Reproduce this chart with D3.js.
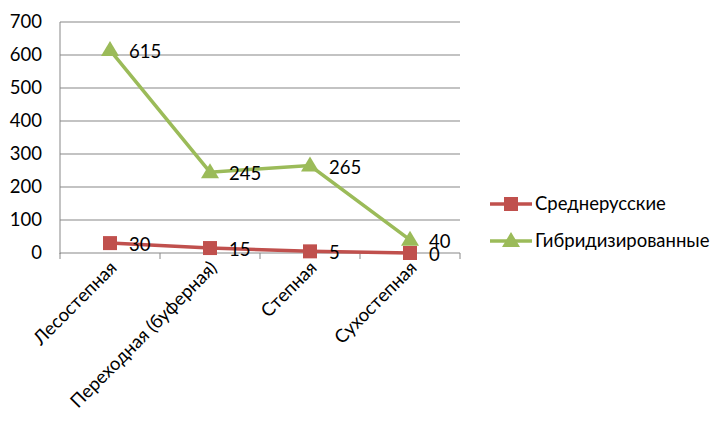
<!DOCTYPE html>
<html>
<head>
<meta charset="utf-8">
<script src="https://cdn.jsdelivr.net/npm/d3@7"></script>
<style>
body { margin:0; background:#fff; }
text { font-family: Lato, "Open Sans", sans-serif; fill:#000; }
</style>
</head>
<body>
<svg id="chart" width="719" height="423"></svg>
<script>
var categories = ['Лесостепная', 'Переходная (буферная)', 'Степная', 'Сухостепная'];
var seriesNames = ['Среднерусские', 'Гибридизированные'];
var sredne = [30, 15, 5, 0];
var gibrid = [615, 245, 265, 40];
var yTicks = [0, 100, 200, 300, 400, 500, 600, 700];
var colors = ['#C0504D', '#9BBB59'];

var svg = d3.select('#chart');
var pLeft = 60, pRight = 460, pTop = 22, pBottom = 253;

var x = d3.scaleBand().domain(categories).range([pLeft, pRight]);
var y = d3.scaleLinear().domain([0, 700]).range([pBottom, pTop]);

// gridlines
svg.append('g').selectAll('line').data(yTicks).enter().append('line')
	.attr('x1', pLeft).attr('x2', pRight)
	.attr('y1', function(d){ return y(d); }).attr('y2', function(d){ return y(d); })
	.attr('stroke', '#878787').attr('stroke-width', 1);

// y axis line
svg.append('line').attr('x1', pLeft).attr('x2', pLeft).attr('y1', pTop).attr('y2', pBottom+1)
	.attr('stroke', '#878787');

// x tick marks
var bounds = categories.map(function(c){ return x(c); }).concat([pRight]);
svg.append('g').selectAll('line').data(bounds).enter().append('line')
	.attr('x1', function(d){ return d; }).attr('x2', function(d){ return d; })
	.attr('y1', pBottom).attr('y2', pBottom+6)
	.attr('stroke', '#878787');

// y labels
svg.append('g').selectAll('text').data(yTicks).enter().append('text')
	.attr('x', 42).attr('y', function(d){ return y(d)+6; })
	.attr('text-anchor', 'end').attr('font-size', 18.5)
	.text(function(d){ return d; });

// x labels
svg.append('g').selectAll('text').data(categories).enter().append('text')
	.attr('transform', function(d){ return 'translate(' + (x(d)+x.bandwidth()/2+8) + ',' + (pBottom+16) + ') rotate(-45)'; })
	.attr('text-anchor', 'end').attr('font-size', 18.5)
	.text(function(d){ return d; });

var line = d3.line()
	.x(function(d,i){ return x(categories[i])+x.bandwidth()/2; })
	.y(function(d){ return y(d); });

var all = [sredne, gibrid];
all.forEach(function(vals, s){
	svg.append('path').datum(vals).attr('d', line)
		.attr('fill', 'none').attr('stroke', colors[s]).attr('stroke-width', 3.5);
});

function marker(g, s, cx, cy){
	if(s==0){
		g.append('rect').attr('x', cx-7).attr('y', cy-7).attr('width', 14).attr('height', 14)
			.attr('fill', colors[0]);
	} else {
		g.append('path').attr('d', 'M'+cx+','+(cy-9)+'L'+(cx+9)+','+(cy+6)+'L'+(cx-9)+','+(cy+6)+'Z')
			.attr('fill', colors[1]);
	}
}

all.forEach(function(vals, s){
	var g = svg.append('g');
	vals.forEach(function(v, i){
		var cx = x(categories[i])+x.bandwidth()/2;
		marker(g, s, cx, y(v));
	});
	g.selectAll('text').data(vals).enter().append('text')
		.attr('x', function(d,i){ return x(categories[i])+x.bandwidth()/2+19; })
		.attr('y', function(d){ return y(d)+8; })
		.attr('font-size', 18.5)
		.text(function(d){ return d; });
});

// legend
var legY = [204, 241];
seriesNames.forEach(function(n, s){
	var g = svg.append('g');
	g.append('line').attr('x1', 490).attr('x2', 532).attr('y1', legY[s]).attr('y2', legY[s])
		.attr('stroke', colors[s]).attr('stroke-width', 3.5);
	marker(g, s, 511, legY[s]);
	g.append('text').attr('x', 535).attr('y', legY[s]+6).attr('font-size', 18.5).text(n);
});
</script>
</body>
</html>
